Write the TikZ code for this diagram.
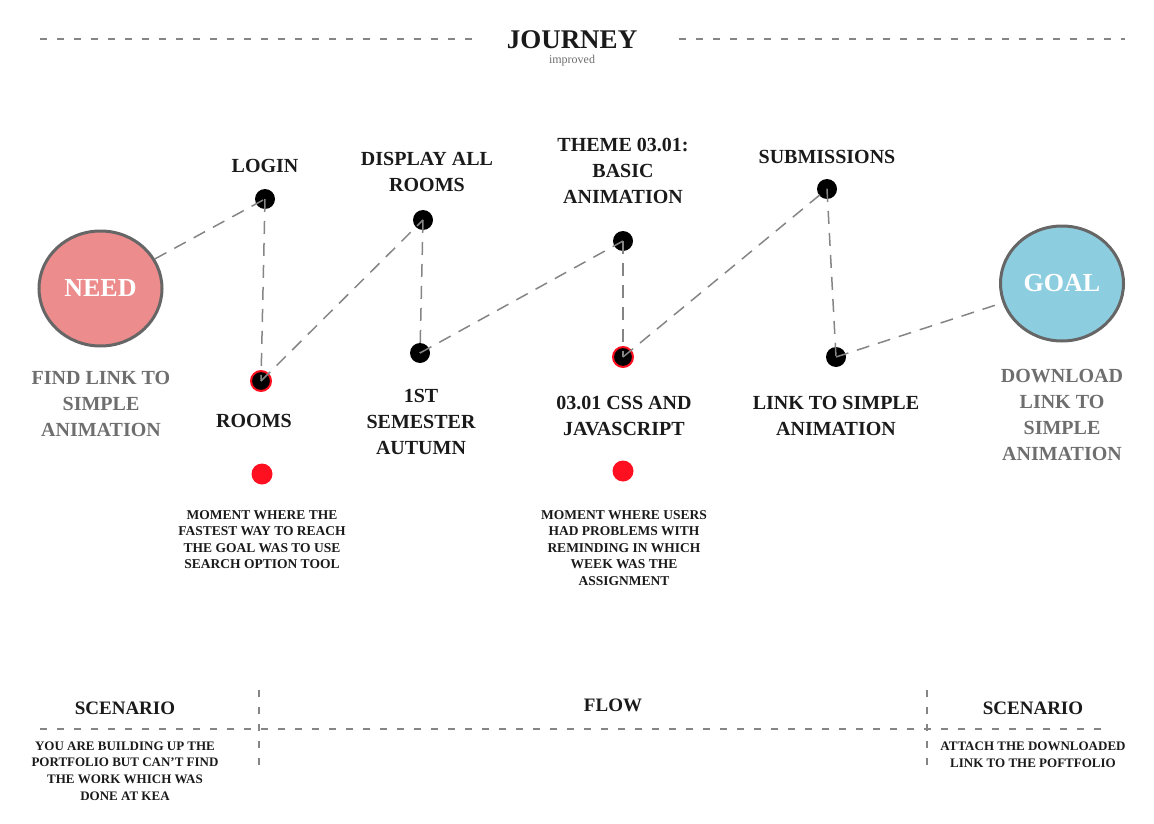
\documentclass[tikz,border=0pt]{standalone}
\usepackage{fontspec}
\setmainfont{Liberation Serif}
\usetikzlibrary{shapes.geometric}

\definecolor{needred}{HTML}{EC8C8D}
\definecolor{goalblue}{HTML}{8DCDE0}
\definecolor{linegray}{HTML}{858585}
\definecolor{rimgray}{HTML}{666666}
\definecolor{textgray}{HTML}{6E6E6E}
\definecolor{inkblack}{HTML}{1A1A1A}
\definecolor{alertred}{HTML}{FF1020}

\tikzset{
  stage/.style={circle, fill=black, minimum size=20, inner sep=0pt},
  problem/.style={stage, draw=alertred, line width=2},
  flag/.style={circle, fill=alertred, minimum size=21, inner sep=0pt},
  trail/.style={linegray, line width=1.5, dash pattern=on 13 off 9},
  rule/.style={linegray, line width=1.1, dash pattern=on 7 off 10},
  bubble/.style={ellipse, draw=rimgray, line width=3, minimum width=123, minimum height=115,
    text=white, font=\bfseries\fontsize{26}{30}\selectfont},
  caption/.style={align=center, inner sep=0pt, text=inkblack, font=\bfseries\fontsize{20}{26}\selectfont},
  hint/.style={caption, text=textgray},
  note/.style={align=center, inner sep=0pt, text=inkblack, font=\bfseries\fontsize{13.5}{16.5}\selectfont}
}

\begin{document}
\begin{tikzpicture}[x=1pt, y=1pt]
    \useasboundingbox (0,0) rectangle (1154,-824);
    % title
    \node (title) at (572,-40) [inner sep=0pt, text=inkblack, font=\bfseries\fontsize{27}{30}\selectfont] {JOURNEY};
    \node (subtitle) at (572,-61) [inner sep=0pt, text=textgray, font=\fontsize{12}{14}\selectfont] {improved};
    \coordinate (tl1) at (40,-39);
    \coordinate (tl2) at (475,-39);
    \coordinate (tr1) at (679,-39);
    \coordinate (tr2) at (1125,-39);
    \draw [rule] (tl1) -- (tl2);
    \draw [rule] (tr1) -- (tr2);
    % need and goal
    \node (need) at (100.5,-288.5) [bubble, fill=needred] {NEED};
    \node (goal) at (1062,-283.5) [bubble, fill=goalblue] {GOAL};
    \node (needtxt) at (101,-404) [hint] {FIND LINK TO\\SIMPLE\\ANIMATION};
    \node (goaltxt) at (1062,-414.5) [hint] {DOWNLOAD\\LINK TO\\SIMPLE\\ANIMATION};
    % steps
    \node (login) at (265,-199) [stage] {};
    \node (rooms) at (261,-381) [problem] {};
    \node (display) at (423,-220) [stage] {};
    \node (semester) at (420,-353) [stage] {};
    \node (theme) at (623,-241) [stage] {};
    \node (css) at (623,-357) [problem] {};
    \node (submit) at (827,-189) [stage] {};
    \node (link) at (836,-357) [stage] {};
    % path
    \draw [trail] (need) -- (login.center);
    \draw [trail] (login.center) -- (rooms.center);
    \draw [trail] (rooms.center) -- (display.center);
    \draw [trail] (display.center) -- (semester.center);
    \draw [trail] (semester.center) -- (theme.center);
    \draw [trail] (theme.center) -- (css.center);
    \draw [trail] (css.center) -- (submit.center);
    \draw [trail] (submit.center) -- (link.center);
    \draw [trail] (link.center) -- (goal);
    % step labels
    \node (logintxt) at (265,-166) [caption] {LOGIN};
    \node (displaytxt) at (427,-172) [caption] {DISPLAY ALL\\ROOMS};
    \node (themetxt) at (623,-171) [caption] {THEME 03.01:\\BASIC\\ANIMATION};
    \node (submittxt) at (827,-157) [caption] {SUBMISSIONS};
    \node (roomstxt) at (254,-421) [caption] {ROOMS};
    \node (semestertxt) at (421,-422) [caption] {1ST\\SEMESTER\\AUTUMN};
    \node (csstxt) at (624,-416) [caption] {03.01 CSS AND\\JAVASCRIPT};
    \node (linktxt) at (836,-416) [caption] {LINK TO SIMPLE\\ANIMATION};
    % pain points
    \node (flag1) at (262,-474) [flag] {};
    \node (flag2) at (623,-471) [flag] {};
    \node (flag1txt) at (262,-539.5) [note] {MOMENT WHERE THE\\FASTEST WAY TO REACH\\THE GOAL WAS TO USE\\SEARCH OPTION TOOL};
    \node (flag2txt) at (624,-548) [note] {MOMENT WHERE USERS\\HAD PROBLEMS WITH\\REMINDING IN WHICH\\WEEK WAS THE\\ASSIGNMENT};
    % bottom table
    \coordinate (bl) at (40,-729);
    \coordinate (br) at (1105,-729);
    \coordinate (d1a) at (259,-690);
    \coordinate (d1b) at (259,-767);
    \coordinate (d2a) at (927,-690);
    \coordinate (d2b) at (927,-767);
    \draw [rule] (bl) -- (br);
    \draw [rule] (d1a) -- (d1b);
    \draw [rule] (d2a) -- (d2b);
    \node (scen1) at (125,-708) [caption, font=\bfseries\fontsize{19}{24}\selectfont] {SCENARIO};
    \node (flow) at (613,-705) [caption, font=\bfseries\fontsize{19}{24}\selectfont] {FLOW};
    \node (scen2) at (1033,-708) [caption, font=\bfseries\fontsize{19}{24}\selectfont] {SCENARIO};
    \node (scen1txt) at (125,-771) [note, font=\bfseries\fontsize{13}{16.7}\selectfont] {YOU ARE BUILDING UP THE\\PORTFOLIO BUT CAN'T FIND\\THE WORK WHICH WAS\\DONE AT KEA};
    \node (scen2txt) at (1033,-754.5) [note, font=\bfseries\fontsize{13}{16.7}\selectfont] {ATTACH THE DOWNLOADED\\LINK TO THE POFTFOLIO};
\end{tikzpicture}
\end{document}
